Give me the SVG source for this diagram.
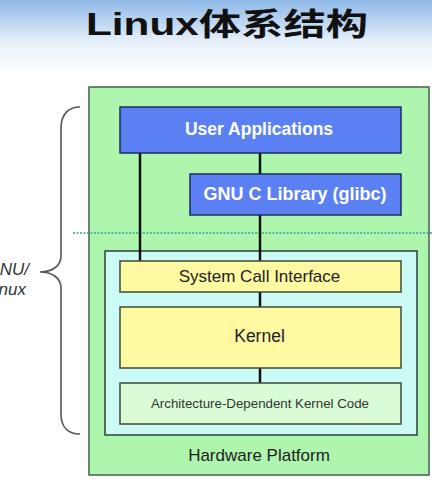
<svg xmlns="http://www.w3.org/2000/svg" width="432" height="480" viewBox="0 0 432 480">
<defs>
<linearGradient id="bg" x1="0" y1="0" x2="0" y2="1">
<stop offset="0" stop-color="#8db8e6"/>
<stop offset="0.55" stop-color="#e6f0fa"/>
<stop offset="1" stop-color="#ffffff"/>
</linearGradient>
<style>
.lbl{font-family:"Liberation Sans",Arial,sans-serif;text-anchor:middle}
.blue{fill:#5b80f4;stroke:#1e2d5e;stroke-width:1.5}
.yel{fill:#fff9a2;stroke:#3f4a3a;stroke-width:1.5}
.conn{stroke:#111;stroke-width:2.5;fill:none}
</style>
</defs>
<rect width="432" height="480" fill="#ffffff"/>
<rect width="432" height="75" fill="url(#bg)"/>
<text x="86" y="35" font-family="'Liberation Sans','Noto Sans CJK SC',sans-serif" font-weight="bold" font-size="31" textLength="282" lengthAdjust="spacingAndGlyphs" fill="#111">Linux体系结构</text>

<g id="hardware">
<rect x="89" y="87" width="340" height="388" fill="#aef5ae" stroke="#44604a" stroke-width="1.5"/>
<text class="lbl" x="259" y="461" font-size="17" fill="#222">Hardware Platform</text>
</g>
<line x1="73" y1="233" x2="432" y2="233" stroke="#3c9f9a" stroke-width="1.5" stroke-dasharray="2,1.5"/>
<g id="kernel-space">
<rect x="105" y="251" width="312" height="184" fill="#ccfbf6" stroke="#2e3f3a" stroke-width="1.5"/>
</g>
<g id="connectors">
<line class="conn" x1="140" y1="153" x2="140" y2="261"/>
<line class="conn" x1="260" y1="153" x2="260" y2="174"/>
<line class="conn" x1="260" y1="215" x2="260" y2="261"/>
<line class="conn" x1="260" y1="292" x2="260" y2="307"/>
<line class="conn" x1="260" y1="368" x2="260" y2="383"/>
</g>
<g id="user-apps">
<rect class="blue" x="120" y="107" width="281" height="46"/>
<text class="lbl" x="259" y="135" font-size="17.5" font-weight="bold" fill="#ffffff">User Applications</text>
</g>
<g id="glibc">
<rect class="blue" x="190" y="174" width="211" height="41"/>
<text class="lbl" x="295" y="200" font-size="18" font-weight="bold" fill="#ffffff">GNU C Library (glibc)</text>
</g>
<g id="syscall">
<rect class="yel" x="120" y="261" width="281" height="31"/>
<text class="lbl" x="259.5" y="282" font-size="17" fill="#222">System Call Interface</text>
</g>
<g id="kernel">
<rect class="yel" x="120" y="307" width="281" height="61"/>
<text class="lbl" x="259.5" y="342" font-size="17.5" fill="#222">Kernel</text>
</g>
<g id="arch">
<rect x="120" y="383" width="281" height="41" fill="#d9fbd6" stroke="#3f4a3a" stroke-width="1.5"/>
<text class="lbl" x="260" y="408" font-size="13.3" fill="#333">Architecture-Dependent Kernel Code</text>
</g>
<g id="gnu-linux">
<path d="M80,107 C68,107 61,115 61,128 L61,256 C61,266 52,272 40,272 C52,272 61,278 61,288 L61,414 C61,427 68,434 80,434" fill="none" stroke="#555" stroke-width="1.6"/>
<text x="29" y="275" font-family="'Liberation Sans',Arial,sans-serif" font-style="italic" font-size="17" text-anchor="end" fill="#333">GNU/</text>
<text x="26" y="295" font-family="'Liberation Sans',Arial,sans-serif" font-style="italic" font-size="17" text-anchor="end" fill="#333">Linux</text>
</g>
</svg>
